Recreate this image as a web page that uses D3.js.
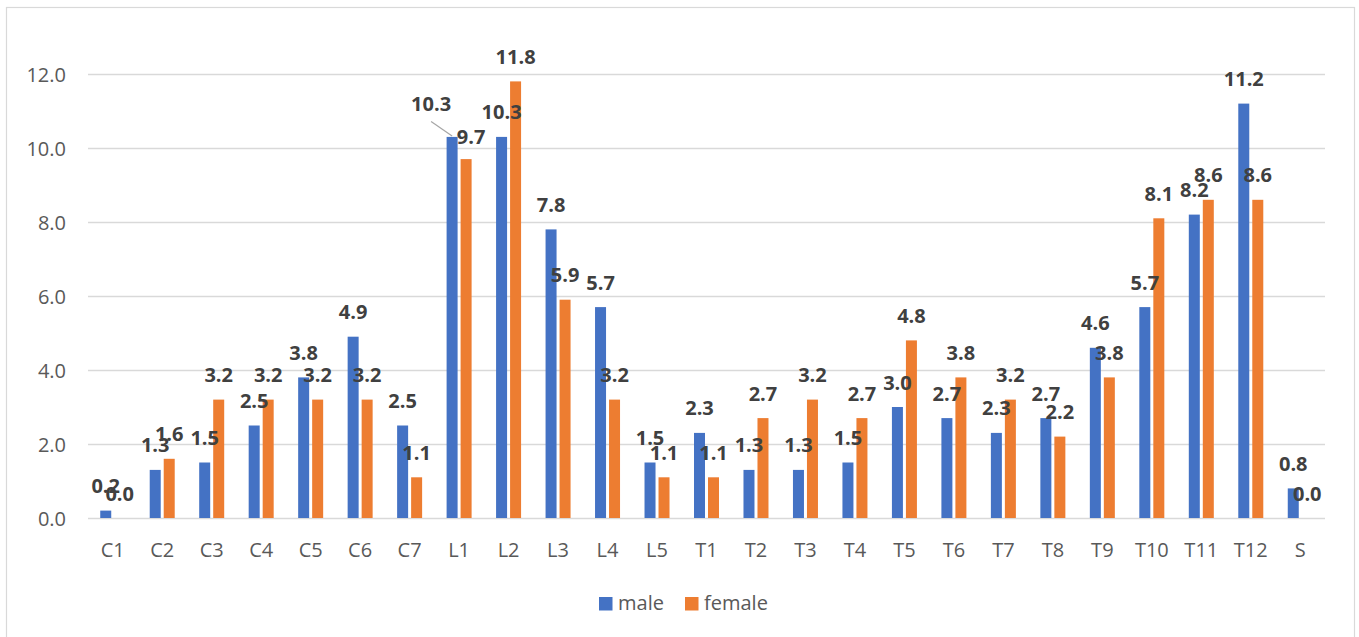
<!DOCTYPE html>
<html>
<head>
<meta charset="utf-8">
<script src="https://cdn.jsdelivr.net/npm/d3@7"></script>
<style>
  html, body { margin: 0; padding: 0; background: #fff; }
  svg { display: block; font-family: "Open Sans", "Noto Sans", sans-serif; }
</style>
</head>
<body>
<svg id="chart" width="1359" height="637"></svg>
<script>
// Vertebral levels and the share per sex (%)
const categories = ["C1","C2","C3","C4","C5","C6","C7","L1","L2","L3","L4","L5",
  "T1","T2","T3","T4","T5","T6","T7","T8","T9","T10","T11","T12","S"];
const maleValues = [0.2,1.3,1.5,2.5,3.8,4.9,2.5,10.3,10.3,7.8,5.7,1.5,
  2.3,1.3,1.3,1.5,3.0,2.7,2.3,2.7,4.6,5.7,8.2,11.2,0.8];
const femaleValues = [0.0,1.6,3.2,3.2,3.2,3.2,1.1,9.7,11.8,5.9,3.2,1.1,
  1.1,2.7,3.2,2.7,4.8,3.8,3.2,2.2,3.8,8.1,8.6,8.6,0.0];
const seriesNames = ["male","female"];
const yTicks = [0,2,4,6,8,10,12];

// Hand-placed data labels that would otherwise collide
const labelNudges = [
  { series: "male", category: "L1", dx: -21, dy: -8, leader: true },
  { series: "female", category: "L1", dx: 5, dy: 2, leader: false }
];

const colors = { male: "#4472C4", female: "#ED7D31" };

const svg = d3.select("#chart");
const plot = { left: 88, right: 1325, top: 74, bottom: 518 };

// outer chart frame
svg.append("rect")
  .attr("x", 6.5).attr("y", 7.5)
  .attr("width", 1348).attr("height", 640)
  .attr("fill", "none").attr("stroke", "#d9d9d9").attr("stroke-width", 1.2);

const x = d3.scaleBand().domain(categories).range([plot.left, plot.right]).padding(0);
const xs = d3.scaleBand().domain(seriesNames).range([-12.5, 12.5])
  .paddingInner(2 - 25 / 14).paddingOuter(0);
const y = d3.scaleLinear().domain([0, 12]).range([plot.bottom, plot.top]);

// gridlines + y labels
const yAxis = d3.axisLeft(y).tickValues(yTicks).tickFormat(d3.format(".1f"))
  .tickSize(-(plot.right - plot.left)).tickPadding(22);
const gy = svg.append("g").attr("transform", `translate(${plot.left},0)`).call(yAxis);
gy.select(".domain").remove();
gy.selectAll(".tick line").attr("stroke", "#d9d9d9").attr("stroke-width", 1.5);
gy.selectAll(".tick text").attr("fill", "#595959").attr("font-size", 20)
  .attr("font-family", "'Open Sans', sans-serif").attr("dy", "0.36em");

// x labels
const xAxis = d3.axisBottom(x).tickSize(0).tickPadding(25);
const gx = svg.append("g").attr("transform", `translate(0,${plot.bottom})`).call(xAxis);
gx.select(".domain").remove();
gx.selectAll(".tick text").attr("fill", "#595959").attr("font-size", 20)
  .attr("font-family", "'Open Sans', sans-serif");

// bars
const rows = categories.map((c, i) => ({ c, male: maleValues[i], female: femaleValues[i] }));
const flat = [];
rows.forEach(r => seriesNames.forEach(s => flat.push({ c: r.c, s, v: r[s] })));

svg.append("g").selectAll("rect").data(flat).join("rect")
  .attr("x", d => x(d.c) + x.bandwidth() / 2 + xs(d.s))
  .attr("y", d => y(d.v))
  .attr("width", xs.bandwidth())
  .attr("height", d => y(0) - y(d.v))
  .attr("fill", d => colors[d.s]);

// data labels
const labelG = svg.append("g");
flat.forEach(d => {
  const cx = x(d.c) + x.bandwidth() / 2 + xs(d.s) + xs.bandwidth() / 2;
  const top = y(d.v);
  const n = labelNudges.find(k => k.series === d.s && k.category === d.c);
  const dx = n ? n.dx : 0, dy = n ? n.dy : 0;
  const tx = cx + dx, ty = top - 17.5 + dy;
  if (n && n.leader) {
    labelG.append("line")
      .attr("x1", tx).attr("y1", ty + 10)
      .attr("x2", cx).attr("y2", top - 1)
      .attr("stroke", "#a6a6a6").attr("stroke-width", 1.2);
  }
  labelG.append("text")
    .attr("x", tx).attr("y", ty)
    .attr("text-anchor", "middle")
    .attr("font-size", 20).attr("font-weight", "bold")
    .attr("fill", "#404040")
    .text(d3.format(".1f")(d.v));
});

// legend
const legend = svg.append("g");
const legendItems = [
  { s: "male", x: 599 },
  { s: "female", x: 685 }
];
legendItems.forEach(it => {
  legend.append("rect").attr("x", it.x).attr("y", 597).attr("width", 13.5).attr("height", 13.5)
    .attr("fill", colors[it.s]);
  legend.append("text").attr("x", it.x + 19).attr("y", 610)
    .attr("font-size", 20).attr("fill", "#595959").text(it.s);
});
</script>
</body>
</html>
